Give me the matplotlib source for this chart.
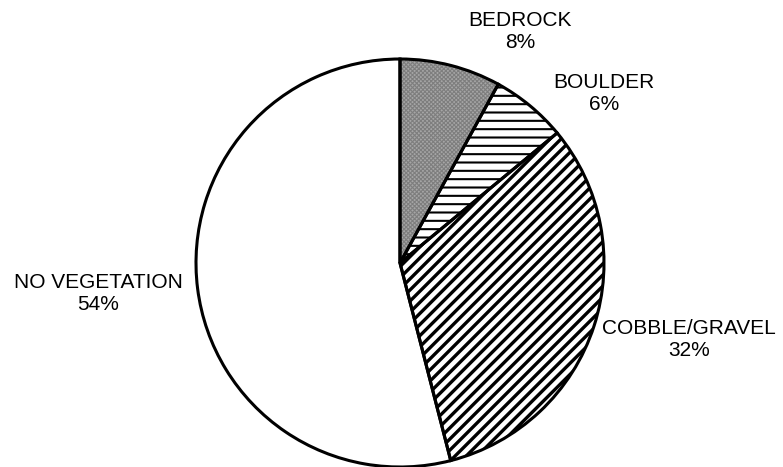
import matplotlib
matplotlib.use("Agg")
import matplotlib.pyplot as plt

# surface cover shares, clockwise from 12 o'clock
labels = ["BEDROCK", "BOULDER", "COBBLE/GRAVEL", "NO VEGETATION"]
shares = [8, 6, 32, 54]
hatches = ["xxxxxxxx", "--", "///", ""]
faces = ["#a6a6a6", "white", "white", "white"]
hatch_cols = ["#7e7e7e", "black", "black", "black"]
hatch_lw = [0.8, 1.5, 2.4, 1.0]

# where the Excel-style labels sit (pixels, y down)
label_pos = [(520, 32), (604, 94), (689, 340), (98, 294)]

plt.rcParams["font.family"] = ["Liberation Sans", "DejaVu Sans"]
plt.rcParams["hatch.linewidth"] = 2.0

fig = plt.figure(figsize=(7.83, 4.67), dpi=100)
ax = fig.add_axes([0, 0, 1, 1])

cx, cy, r = 400, 467 - 263, 204

# fill + hatch pass
wedges, _ = ax.pie(shares, startangle=90, counterclock=False,
                   center=(cx, cy), radius=r, colors=faces,
                   wedgeprops=dict(linewidth=0))
for w, h, hc, lw in zip(wedges, hatches, hatch_cols, hatch_lw):
    w.set_hatch(h)
    w.set_edgecolor(hc)
    if hasattr(w, "set_hatch_linewidth"):
        w.set_hatch_linewidth(lw)

# outline pass
ax.pie(shares, startangle=90, counterclock=False, center=(cx, cy), radius=r,
       wedgeprops=dict(fill=False, edgecolor="black", linewidth=2.2))

for lab, s, (x, y) in zip(labels, shares, label_pos):
    ax.text(x, 467 - y, f"{lab}\n{s}%", ha="center", va="center",
            fontsize=15, linespacing=1.2)

ax.set_xlim(0, 783)
ax.set_ylim(0, 467)
ax.set_aspect("equal")
ax.axis("off")

fig.savefig("out.png", dpi=100)
